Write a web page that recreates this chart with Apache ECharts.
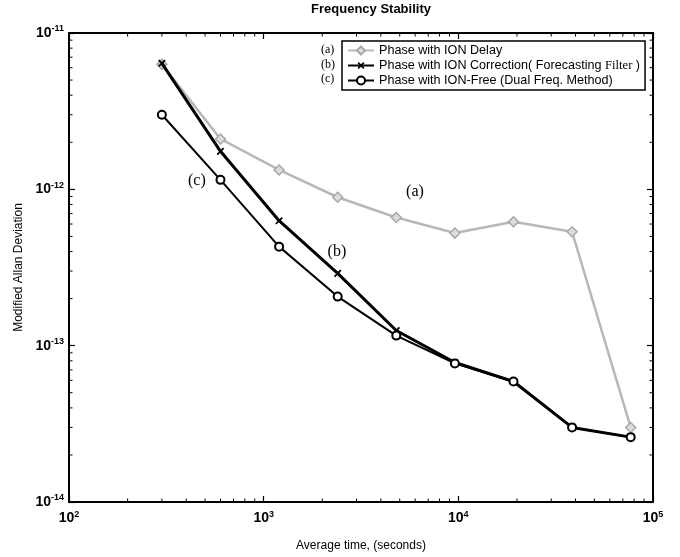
<!DOCTYPE html>
<html><head><meta charset="utf-8">
<script src="https://cdn.jsdelivr.net/npm/echarts@6/dist/echarts.min.js"></script>
<style>html,body{margin:0;padding:0;background:#fff}#c{width:680px;height:557px}</style>
</head><body><div id="c"></div>
<script>
const tau = [300, 600, 1200, 2400, 4800, 9600, 19200, 38400, 76800];
const ionDelay = [6.3e-12, 2.1e-12, 1.33e-12, 8.9e-13, 6.6e-13, 5.25e-13, 6.2e-13, 5.35e-13, 3.0e-14];
const ionCorr = [6.4e-12, 1.75e-12, 6.3e-13, 2.9e-13, 1.25e-13, 7.8e-14, 5.9e-14, 3.0e-14, 2.6e-14];
const ionFree = [3.0e-12, 1.15e-12, 4.3e-13, 2.06e-13, 1.16e-13, 7.7e-14, 5.9e-14, 3.0e-14, 2.6e-14];
const seriesNames = ['Phase with ION Delay', 'Phase with ION Correction( Forecasting Filter )', 'Phase with ION-Free (Dual Freq. Method)'];
const tags = ['(a)', '(b)', '(c)'];
const tagPos = [[5985, 9.6e-13], [2378, 3.97e-13], [454, 1.14e-12]];
const xDecades = [2, 3, 4];
const yDecades = [-14, -13, -12];
const minorMult = [2, 3, 4, 5, 6, 7, 8, 9];

const pair = (xs, ys) => xs.map((x, i) => [x, ys[i]]);
const font = 'Liberation Sans, Arial, sans-serif';
const sup = v => '{b|10}{s|' + Math.round(Math.log10(v)) + '}';
const rich = {
  b: { fontSize: 14, fontWeight: 'bold', fontFamily: font, color: '#000' },
  s: { fontSize: 9, fontWeight: 'bold', fontFamily: font, verticalAlign: 'top', color: '#000', padding: [0, 0, 8, 0] }
};
const tagMark = i => ({
  symbol: 'circle', symbolSize: 0,
  label: { show: true, formatter: tags[i], fontFamily: 'Liberation Serif, serif', fontSize: 16, color: '#000' },
  data: [{ coord: tagPos[i] }]
});
const minorData = [];
xDecades.forEach(k => minorMult.forEach(m => minorData.push([m * Math.pow(10, k), 1e-14, 0])));
yDecades.forEach(k => minorMult.forEach(m => minorData.push([100, m * Math.pow(10, k), 1])));

const chart = echarts.init(document.getElementById('c'), null, { renderer: 'canvas' });
const axisLine = { lineStyle: { color: '#000', width: 2 } };
const majorTick = { inside: true, length: 6, lineStyle: { color: '#000', width: 1.2 } };
chart.setOption({
  animation: false,
  backgroundColor: '#fff',
  title: { text: 'Frequency Stability', left: 366, top: -2, textAlign: 'center', textStyle: { fontFamily: font, fontSize: 13, fontWeight: 'bold', color: '#000' } },
  grid: { left: 69, right: 27, top: 33, bottom: 53 },
  legend: {
    left: 342, top: 41, orient: 'vertical', itemWidth: 26, itemHeight: 10, itemGap: 2,
    padding: [3, 5, 3, 5], backgroundColor: '#fff', borderColor: '#000', borderWidth: 1.5,
    textStyle: { fontFamily: font, fontSize: 12.6, color: '#000', lineHeight: 13,
      rich: { f: { fontFamily: 'Liberation Serif, serif', fontSize: 12.6, color: '#000' } } },
    formatter: n => n.replace('Filter', '{f|Filter}'),
    data: seriesNames
  },
  graphic: tags.map((t, i) => ({ type: 'text', left: 321, top: 44 + i * 14.5, style: { text: t, font: '12px Liberation Serif, serif', fill: '#000' } })),
  xAxis: [{
    type: 'log', min: 100, max: 100000, logBase: 10, position: 'bottom',
    name: 'Average time, (seconds)', nameLocation: 'middle', nameGap: 38,
    nameTextStyle: { fontFamily: font, fontSize: 12, color: '#000' },
    axisLine: axisLine, axisTick: majorTick, minorTick: { show: false },
    splitLine: { show: false },
    axisLabel: { formatter: sup, rich: rich, margin: 8 }
  }, {
    type: 'log', min: 100, max: 100000, position: 'top',
    axisLine: axisLine, axisTick: majorTick, splitLine: { show: false }, axisLabel: { show: false }
  }],
  yAxis: [{
    type: 'log', min: 1e-14, max: 1e-11, position: 'left',
    name: 'Modified Allan Deviation', nameLocation: 'middle', nameGap: 44, nameRotate: 90,
    nameTextStyle: { fontFamily: font, fontSize: 12, color: '#000' },
    axisLine: axisLine, axisTick: majorTick, minorTick: { show: false },
    splitLine: { show: false },
    axisLabel: { formatter: sup, rich: rich, margin: 5 }
  }, {
    type: 'log', min: 1e-14, max: 1e-11, position: 'right',
    axisLine: axisLine, axisTick: majorTick, splitLine: { show: false }, axisLabel: { show: false }
  }],
  series: [{
    type: 'custom', data: minorData, encode: { x: 0, y: 1 }, silent: true, clip: false, z: 1,
    renderItem: (params, api) => {
      const L = 3.5;
      const st = { stroke: '#000', lineWidth: 1 };
      if (api.value(2) === 0) {
        const a = api.coord([api.value(0), 1e-14]);
        const b = api.coord([api.value(0), 1e-11]);
        return { type: 'group', children: [
          { type: 'line', shape: { x1: a[0], y1: a[1], x2: a[0], y2: a[1] - L }, style: st },
          { type: 'line', shape: { x1: b[0], y1: b[1], x2: b[0], y2: b[1] + L }, style: st }
        ] };
      }
      const a = api.coord([100, api.value(1)]);
      const b = api.coord([100000, api.value(1)]);
      return { type: 'group', children: [
        { type: 'line', shape: { x1: a[0], y1: a[1], x2: a[0] + L, y2: a[1] }, style: st },
        { type: 'line', shape: { x1: b[0], y1: b[1], x2: b[0] - L, y2: b[1] }, style: st }
      ] };
    }
  }, {
    name: seriesNames[0], type: 'line', data: pair(tau, ionDelay),
    symbol: 'diamond', symbolSize: 10,
    lineStyle: { color: '#b8b8b8', width: 2.5 },
    itemStyle: { color: '#dcdcdc', borderColor: '#a8a8a8', borderWidth: 1.5 },
    markPoint: tagMark(0), z: 2
  }, {
    name: seriesNames[1], type: 'line', data: pair(tau, ionCorr),
    symbol: 'path://M4,0H6V4H10V6H6V10H4V6H0V4H4Z', symbolSize: 9, symbolRotate: 45,
    lineStyle: { color: '#000', width: 3 },
    itemStyle: { color: '#000' },
    markPoint: tagMark(1), z: 3
  }, {
    name: seriesNames[2], type: 'line', data: pair(tau, ionFree),
    symbol: 'emptyCircle', symbolSize: 8,
    lineStyle: { color: '#000', width: 2 },
    itemStyle: { color: '#000', borderColor: '#000', borderWidth: 2 },
    markPoint: tagMark(2), z: 4
  }]
});
</script></body></html>
